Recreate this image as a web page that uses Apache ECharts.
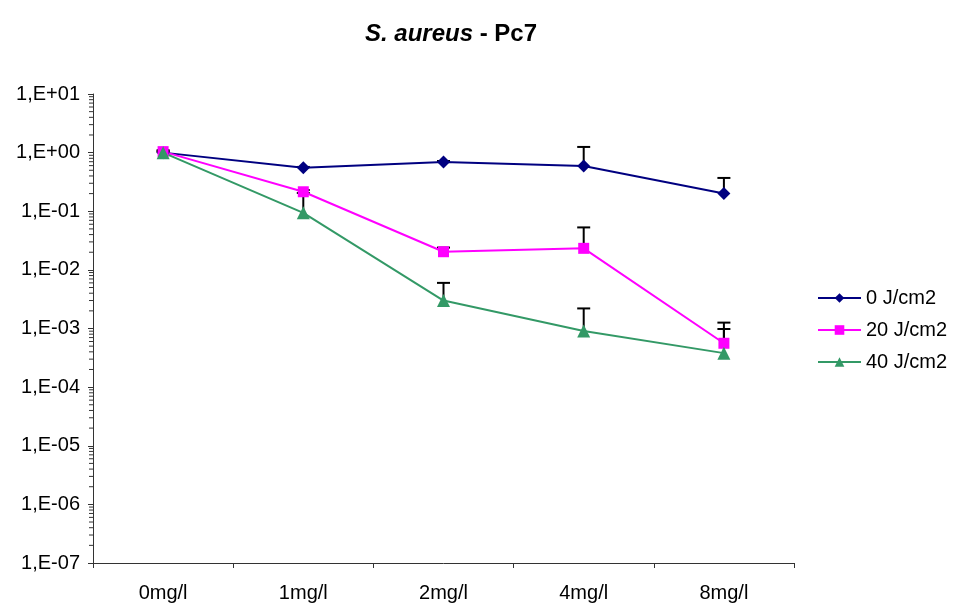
<!DOCTYPE html>
<html>
<head>
<meta charset="utf-8">
<script src="https://cdn.jsdelivr.net/npm/echarts@6/dist/echarts.min.js"></script>
<style>html,body{margin:0;padding:0;background:#fff}#c{width:954px;height:604px}</style>
</head>
<body>
<div id="c"></div>
<script>
const categories = ['0mg/l', '1mg/l', '2mg/l', '4mg/l', '8mg/l'];
const seriesNames = ['0 J/cm2', '20 J/cm2', '40 J/cm2'];
const values0 = [1.0, 0.55, 0.69, 0.59, 0.20];
const values20 = [1.04, 0.215, 0.0204, 0.0233, 0.00056];
const values40 = [1.0, 0.094, 0.0030, 0.00091, 0.00038];
const errTop0 = [1.06, 0.57, 0.72, 1.25, 0.37];
const errTop20 = [1.1, 0.23, 0.024, 0.053, 0.00126];
const errTop40 = [1.02, 0.205, 0.006, 0.0022, 0.00098];
const yMin = 1e-7, yMax = 10;
const decades = [-7, -6, -5, -4, -3, -2, -1, 0];
const mantissas = [2, 3, 4, 5, 6, 7, 8, 9];

const FONT = 'Liberation Sans, Arial, sans-serif';
const colors = ['#000080', '#FF00FF', '#339966'];
const symbols = ['diamond', 'rect', 'triangle'];
const symbolSizes = [13, 11, 13];

function fmt(v) {
  const e = Math.round(Math.log10(v));
  const s = e < 0 ? '-' : '+';
  const a = Math.abs(e);
  return '1,E' + s + (a < 10 ? '0' + a : a);
}

const minorData = [];
decades.forEach(d => mantissas.forEach(m => minorData.push([0, m * Math.pow(10, d)])));

function errSeries(vals, tops) {
  return {
    type: 'custom',
    z: 1,
    silent: true,
    data: vals.map((v, i) => [i, v, tops[i]]),
    renderItem: function (params, api) {
      const p0 = api.coord([api.value(0), api.value(1)]);
      const p1 = api.coord([api.value(0), api.value(2)]);
      const hw = 6.5;
      return {
        type: 'group',
        children: [
          { type: 'line', shape: { x1: p0[0], y1: p0[1], x2: p1[0], y2: p1[1] }, style: { stroke: '#000', lineWidth: 2 } },
          { type: 'line', shape: { x1: p1[0] - hw, y1: p1[1], x2: p1[0] + hw, y2: p1[1] }, style: { stroke: '#000', lineWidth: 2 } }
        ]
      };
    }
  };
}

const allVals = [values0, values20, values40];
const chart = echarts.init(document.getElementById('c'));
chart.setOption({
  animation: false,
  backgroundColor: '#fff',
  title: {
    text: '{i|S. aureus}{b| - Pc7}',
    left: 446,
    textAlign: 'center',
    top: 17,
    textStyle: {
      rich: {
        i: { fontFamily: FONT, fontSize: 24, fontWeight: 'bold', fontStyle: 'italic', color: '#000' },
        b: { fontFamily: FONT, fontSize: 24, fontWeight: 'bold', color: '#000' }
      }
    }
  },
  legend: {
    orient: 'vertical',
    left: 812,
    top: 283,
    itemWidth: 43,
    itemHeight: 12,
    itemGap: 12,
    itemTextGap: 7,
    data: seriesNames,
    textStyle: { fontFamily: FONT, fontSize: 20, color: '#000' }
  },
  grid: { left: 93, right: 160, top: 94, bottom: 41, containLabel: false },
  xAxis: {
    type: 'category',
    data: categories,
    boundaryGap: true,
    axisLine: { lineStyle: { color: '#333', width: 1 } },
    axisTick: { show: true, length: 5, alignWithLabel: false, lineStyle: { color: '#333' } },
    axisLabel: { fontFamily: FONT, fontSize: 20, color: '#000', margin: 20 },
    splitLine: { show: false }
  },
  yAxis: {
    type: 'log',
    logBase: 10,
    min: yMin,
    max: yMax,
    splitNumber: 8,
    axisLine: { show: true, lineStyle: { color: '#333', width: 1 } },
    axisTick: { show: true, length: 5, lineStyle: { color: '#333' } },
    axisLabel: { fontFamily: FONT, fontSize: 20, color: '#000', margin: 13, formatter: fmt },
    splitLine: { show: false },
    minorTick: { show: false }
  },
  series: [
    {
      type: 'custom',
      silent: true,
      z: 0,
      data: minorData,
      renderItem: function (params, api) {
        const p = api.coord([0, api.value(1)]);
        const x = params.coordSys.x;
        return { type: 'line', shape: { x1: x - 4, y1: p[1], x2: x, y2: p[1] }, style: { stroke: '#333', lineWidth: 1 } };
      }
    },
    errSeries(values0, errTop0),
    errSeries(values20, errTop20),
    errSeries(values40, errTop40)
  ].concat(seriesNames.map((n, k) => ({
    name: n,
    type: 'line',
    z: 3,
    data: allVals[k],
    symbol: symbols[k],
    symbolSize: symbolSizes[k],
    showAllSymbol: true,
    lineStyle: { color: colors[k], width: 2 },
    itemStyle: { color: colors[k] }
  })))
});
</script>
</body>
</html>
